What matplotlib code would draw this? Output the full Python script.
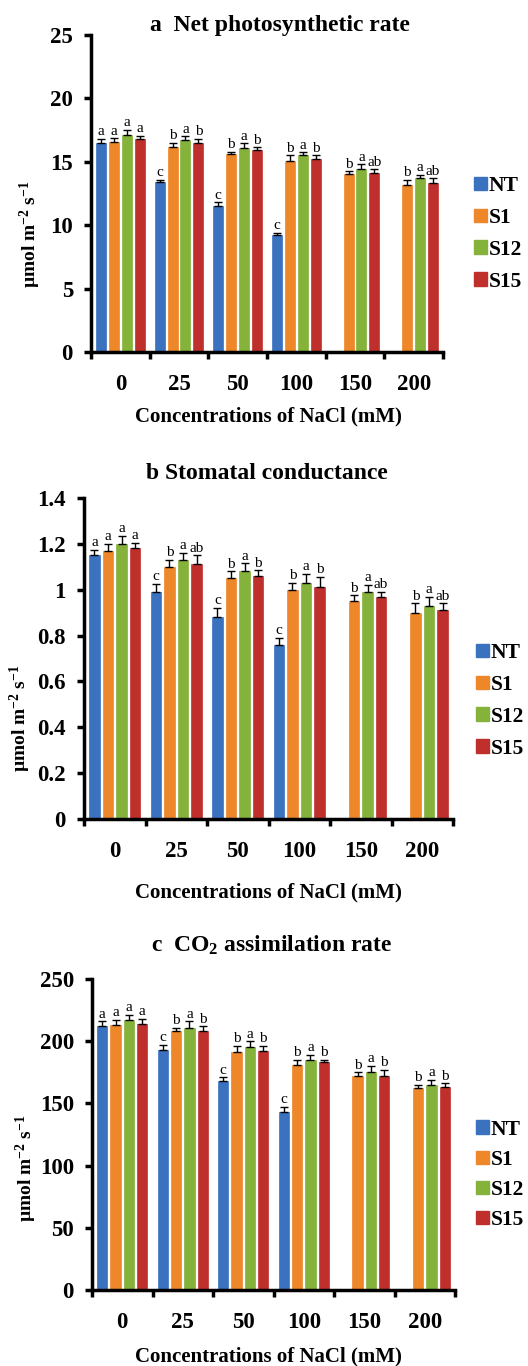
import numpy as np
import matplotlib
matplotlib.use('Agg')
import matplotlib.pyplot as plt
from matplotlib.patches import Patch

plt.rcParams['font.family'] = ['Liberation Serif', 'DejaVu Serif']
plt.rcParams['mathtext.fontset'] = 'custom'
plt.rcParams['mathtext.rm'] = 'Liberation Serif:bold'
plt.rcParams['mathtext.it'] = 'Liberation Serif:bold'
plt.rcParams['mathtext.bf'] = 'Liberation Serif:bold'

# datos
conc = ['0', '25', '50', '100', '150', '200']
lineas = ['NT', 'S1', 'S12', 'S15']
colores = ['#3b72c0', '#ee8729', '#84b23b', '#bf302d']

# a  tasa fotosintetica neta
a_vals = [[16.5, 13.4, 11.5, 9.2, np.nan, np.nan],
          [16.6, 16.2, 15.6, 15.1, 14.0, 13.2],
          [17.1, 16.7, 16.1, 15.5, 14.4, 13.7],
          [16.8, 16.5, 15.9, 15.2, 14.1, 13.3]]
a_err = [[0.3, 0.2, 0.3, 0.2, 0, 0],
         [0.25, 0.3, 0.2, 0.4, 0.25, 0.4],
         [0.4, 0.3, 0.35, 0.25, 0.4, 0.25],
         [0.25, 0.3, 0.25, 0.3, 0.3, 0.4]]
a_let = [['a', 'c', 'c', 'c', '', ''],
         ['a', 'b', 'b', 'b', 'b', 'b'],
         ['a', 'a', 'a', 'a', 'a', 'a'],
         ['a', 'b', 'b', 'b', 'ab', 'ab']]

# b  conductancia estomatica
b_vals = [[1.15, 0.99, 0.88, 0.76, np.nan, np.nan],
          [1.17, 1.10, 1.05, 1.00, 0.95, 0.90],
          [1.20, 1.13, 1.08, 1.03, 0.99, 0.93],
          [1.18, 1.11, 1.06, 1.01, 0.97, 0.91]]
b_err = [[0.025, 0.035, 0.04, 0.03, 0, 0],
         [0.03, 0.03, 0.03, 0.03, 0.025, 0.04],
         [0.035, 0.03, 0.035, 0.04, 0.03, 0.04],
         [0.025, 0.04, 0.025, 0.045, 0.02, 0.03]]
b_let = [['a', 'c', 'c', 'c', '', ''],
         ['a', 'b', 'b', 'b', 'b', 'b'],
         ['a', 'a', 'a', 'a', 'a', 'a'],
         ['a', 'ab', 'b', 'b', 'ab', 'ab']]

# c  asimilacion de CO2
c_vals = [[212, 193, 168, 143, np.nan, np.nan],
          [213, 208, 191, 181, 172, 162],
          [217, 211, 195, 185, 175, 165],
          [214, 208, 192, 183, 172, 163]]
c_err = [[4, 4, 3, 4, 0, 0],
         [4, 3, 5, 4, 3, 3],
         [4, 5, 5, 4, 5, 4],
         [4, 4, 4, 2, 5, 3]]
c_let = [['a', 'c', 'c', 'c', '', ''],
         ['a', 'b', 'b', 'b', 'b', 'b'],
         ['a', 'a', 'a', 'a', 'a', 'a'],
         ['a', 'b', 'b', 'b', 'b', 'b']]

W, H = 528, 1366
fig = plt.figure(figsize=(W / 100, H / 100), dpi=100)


def px(x0, y0, x1, y1):
    # caja de ejes en pixeles (y hacia abajo)
    return [x0 / W, 1 - y1 / H, (x1 - x0) / W, (y1 - y0) / H]


def panel(box, vals, errs, lets, ymax, ystep, titulo, t_xy, yl_xy, xl_y, leg_xy, lsp):
    ax = fig.add_axes(px(*box))
    x = np.arange(len(conc))
    paso, ancho = 0.22, 0.17
    for i in range(4):
        pos = x + (i - 1.5) * paso
        v = np.array(vals[i], dtype=float)
        e = np.array(errs[i], dtype=float)
        ax.bar(pos, v, ancho, color=colores[i], edgecolor=colores[i], linewidth=0.5,
               yerr=[np.zeros_like(e), e], capsize=3,
               error_kw=dict(ecolor='black', elinewidth=1.0, capthick=1.0))
        for j in range(len(conc)):
            if lets[i][j]:
                ax.annotate(lets[i][j], (pos[j], v[j] + e[j]), xytext=(0, 0.5),
                            textcoords='offset points', ha='center', va='bottom',
                            fontsize=11, fontweight='normal')
    ax.set_xlim(-0.5, len(conc) - 0.5)
    ax.set_ylim(0, ymax)
    ax.set_yticks(np.arange(0, ymax + ystep / 2, ystep))
    ax.set_yticklabels(['%g' % round(t, 2) for t in np.arange(0, ymax + ystep / 2, ystep)])
    ax.set_xticks(np.arange(-0.5, len(conc)), minor=False)
    ax.set_xticklabels([])
    ax.set_xticks(x, minor=True)
    ax.set_xticklabels(conc, minor=True)
    ax.tick_params(axis='x', which='major', length=5, width=2.5, direction='out')
    ax.tick_params(axis='x', which='minor', length=0, pad=16, labelsize=16.5)
    ax.tick_params(axis='y', length=5, width=2.5, direction='out', pad=8, labelsize=16.5)
    for lab in ax.get_xticklabels(minor=True) + ax.get_yticklabels():
        lab.set_fontweight('bold')
    for s in ['top', 'right']:
        ax.spines[s].set_visible(False)
    for s in ['left', 'bottom']:
        ax.spines[s].set_linewidth(2.5)
    fig.text(t_xy[0] / W, 1 - t_xy[1] / H, titulo, ha='center', va='center',
             fontsize=17, fontweight='bold')
    fig.text(yl_xy[0] / W, 1 - yl_xy[1] / H, r'µmol m$^{-2}$ s$^{-1}$', rotation=90,
             ha='center', va='center', fontsize=14, fontweight='bold')
    fig.text(268 / W, 1 - xl_y / H, 'Concentrations of NaCl (mM)', ha='center',
             va='center', fontsize=15, fontweight='bold')
    hs = [Patch(facecolor=c, edgecolor=c) for c in colores]
    ax.legend(hs, lineas, loc='center left', bbox_to_anchor=(leg_xy[0] / W, 1 - leg_xy[1] / H),
              bbox_transform=fig.transFigure, frameon=False, borderpad=0,
              handlelength=0.6, handleheight=0.6, handletextpad=0.1,
              labelspacing=lsp, prop=dict(size=15.5, weight='bold'))
    return ax


panel((91, 35, 443, 352), a_vals, a_err, a_let, 25, 5, 'a  Net photosynthetic rate',
      (280, 25), (30, 234), 416, (463, 234), 0.55)
panel((84, 498, 453, 819), b_vals, b_err, b_let, 1.4, 0.2, 'b Stomatal conductance',
      (267, 473), (20, 718), 892, (465, 701), 0.55)
panel((92, 979, 455, 1290), c_vals, c_err, c_let, 250, 50, r'c  CO$_2$ assimilation rate',
      (272, 945), (26, 1168), 1356, (465, 1175), 0.47)

fig.savefig('out.png', dpi=100)
